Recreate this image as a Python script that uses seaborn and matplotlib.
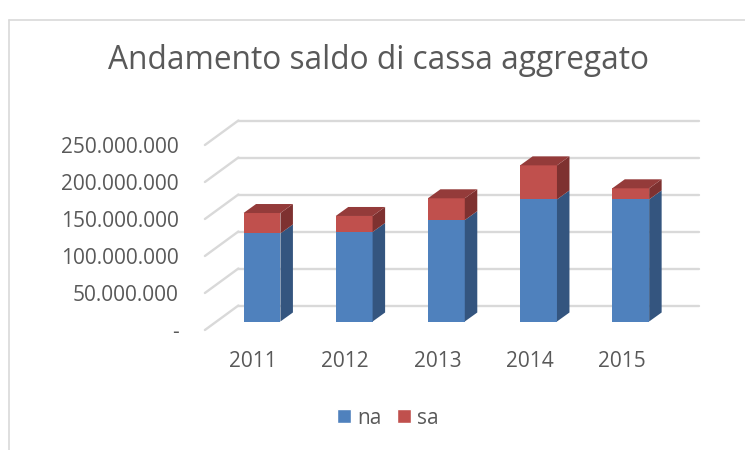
import matplotlib
matplotlib.use("Agg")
import pandas as pd
import matplotlib.pyplot as plt
import seaborn as sns
from matplotlib.patches import Polygon, Patch
from matplotlib.lines import Line2D
from matplotlib.transforms import ScaledTranslation, IdentityTransform

# -------------------------------
# Data
# -------------------------------
years = ["2011", "2012", "2013", "2014", "2015"]
na = [119e6, 121e6, 137e6, 165e6, 165e6]
sa = [27.6e6, 21.6e6, 29.5e6, 46e6, 15e6]
y_ticks = [0, 50e6, 100e6, 150e6, 200e6, 250e6]
y_labels = ["-", "50.000.000", "100.000.000", "150.000.000", "200.000.000", "250.000.000"]

title = "Andamento saldo di cassa aggregato"

BLUE = "#4f81bd"
BLUE_SIDE = "#34557f"
RED = "#c0504d"
RED_SIDE = "#7e3130"
RED_TOP = "#943b3a"
GRID = "#d9d9d9"
TEXT = "#595959"

# depth offsets in pixels (display coords, y up)
BAR_DX, BAR_DY = 12.5, 9.0
FRONT_DX, FRONT_DY = -11.0, -8.5
BACK_DX, BACK_DY = 22.5, 16.0

sns.set_style("white")
plt.rcParams['font.family'] = ['Open Sans', 'DejaVu Sans']

df = pd.DataFrame({"year": years, "na": na, "sa": sa})
df["total"] = df["na"] + df["sa"]

W, H, DPI = 745, 450, 100
fig = plt.figure(figsize=(W / DPI, H / DPI), dpi=DPI)
ax = fig.add_axes([215.9 / W, 128.5 / H, 460.9 / W, 0.74 * 260 / H])
ax.set_zorder(1)

sns.barplot(data=df, x="year", y="total", color=RED, width=0.4, saturation=1,
            linewidth=0, ax=ax, zorder=3)
sns.barplot(data=df, x="year", y="na", color=BLUE, width=0.4, saturation=1,
            linewidth=0, ax=ax, zorder=3)

ax.set_xlim(-0.5, 4.5)
ax.set_ylim(0, 260e6)
ax.set_xlabel("")
ax.set_ylabel("")
for s in ax.spines.values():
    s.set_visible(False)
ax.patch.set_alpha(0)

# -------------------------------
# Ticks on the front plane
# -------------------------------
ax.set_yticks(y_ticks, y_labels)
ax.tick_params(axis="y", length=0, pad=26.6, labelsize=15, labelcolor=TEXT)
ax.tick_params(axis="x", length=0, pad=21, labelsize=15, labelcolor=TEXT)
for lab in ax.get_yticklabels():
    lab.set_transform(lab.get_transform() + ScaledTranslation(0, FRONT_DY / DPI, fig.dpi_scale_trans))
for lab in ax.get_xticklabels():
    lab.set_transform(lab.get_transform() + ScaledTranslation(-9 / DPI, 0, fig.dpi_scale_trans))

ident = IdentityTransform()

# -------------------------------
# Back wall gridlines + floor diagonals
# -------------------------------
for v in y_ticks:
    xl, yv = ax.transData.transform((-0.5, v))
    xr, _ = ax.transData.transform((4.5, v))
    fig.add_artist(Line2D([xl + BACK_DX, xr + BACK_DX], [yv + BACK_DY, yv + BACK_DY],
                          color=GRID, lw=1.7, transform=ident, zorder=0))
    fig.add_artist(Line2D([xl + FRONT_DX, xl + BACK_DX], [yv + FRONT_DY, yv + BACK_DY],
                          color=GRID, lw=1.7, transform=ident, zorder=0))

# -------------------------------
# 3D side and top faces
# -------------------------------
reds = ax.patches[:len(years)]
blues = ax.patches[len(years):]
for rp, bp in zip(reds, blues):
    x0 = rp.get_x()
    x1 = x0 + rp.get_width()
    (X0, Y0) = ax.transData.transform((x0, 0))
    (X1, YB) = ax.transData.transform((x1, bp.get_height()))
    (_, YT) = ax.transData.transform((x1, rp.get_height()))
    faces = [
        ([(X1, Y0), (X1 + BAR_DX, Y0 + BAR_DY), (X1 + BAR_DX, YB + BAR_DY), (X1, YB)], BLUE_SIDE),
        ([(X1, YB), (X1 + BAR_DX, YB + BAR_DY), (X1 + BAR_DX, YT + BAR_DY), (X1, YT)], RED_SIDE),
        ([(X0, YT), (X1, YT), (X1 + BAR_DX, YT + BAR_DY), (X0 + BAR_DX, YT + BAR_DY)], RED_TOP),
    ]
    for pts, col in faces:
        fig.add_artist(Polygon(pts, closed=True, facecolor=col, edgecolor="none",
                               transform=ident, zorder=2))

# -------------------------------
# Title, legend, chart border
# -------------------------------
fig.text(378.5 / W, 1 - 69.3 / H, title, ha="center", va="baseline",
         fontsize=22.8, color=TEXT)

handles = [Patch(facecolor=BLUE, label="na"), Patch(facecolor=RED, label="sa")]
fig.legend(handles=handles, loc="center", bbox_to_anchor=(388 / W, 1 - 418 / H),
           ncol=2, frameon=False, fontsize=15, labelcolor=TEXT,
           handlelength=0.67, handleheight=0.67, handletextpad=0.3,
           columnspacing=0.75, borderpad=0)

fig.add_artist(Line2D([9, W], [H - 20, H - 20], color=GRID, lw=1.2, transform=ident))
fig.add_artist(Line2D([9, 9], [H - 20, 0], color=GRID, lw=1.2, transform=ident))

fig.savefig("out.png", dpi=DPI)
